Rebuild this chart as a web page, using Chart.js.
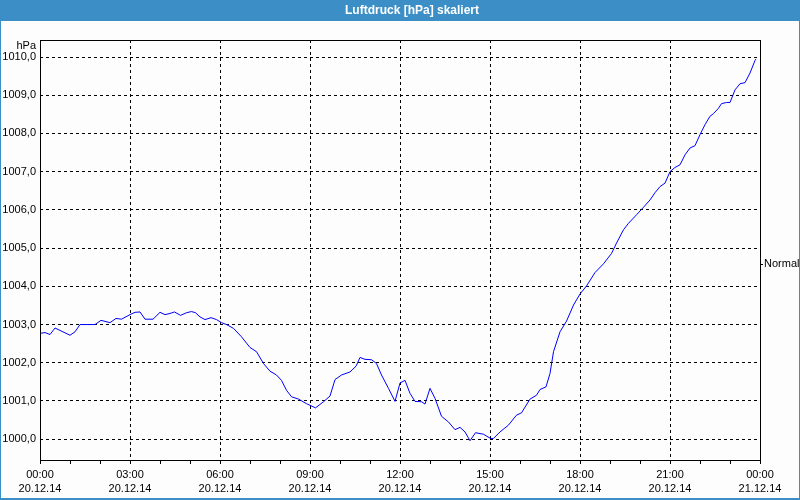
<!DOCTYPE html>
<html>
<head>
<meta charset="utf-8">
<title>Luftdruck [hPa] skaliert</title>
<script src="https://cdn.jsdelivr.net/npm/chart.js"></script>
<style>
  html, body { margin: 0; padding: 0; background: #ffffff; }
  #chart { display: block; }
</style>
</head>
<body>
<canvas id="chart" width="800" height="500"></canvas>
<script>
// minutes since 20.12.14 00:00
const minutes = [0, 10, 20, 30, 60, 70, 80, 110, 122, 140, 152, 163, 180, 190, 200, 210, 226, 240, 250, 260,
  269, 281, 293, 303, 311, 320, 330, 342, 353, 363, 373, 387, 403, 420, 433, 447, 460, 473, 483, 493,
  503, 517, 533, 551, 567, 580, 590, 603, 620, 632, 640, 650, 663, 673, 683, 697, 710, 720, 730, 740,
  750, 763, 770, 780, 790, 803, 817, 830, 840, 850, 860, 871, 887, 901, 907, 920, 937, 953, 963, 980,
  993, 1000, 1012, 1020, 1027, 1040, 1053, 1067, 1080, 1093, 1110, 1127, 1143, 1153, 1167, 1177, 1193, 1207, 1220, 1230,
  1240, 1250, 1260, 1270, 1280, 1290, 1300, 1310, 1320, 1330, 1340, 1347, 1357, 1363, 1373, 1380, 1390, 1400, 1410, 1420,
  1430, 1432];
const pressure = [1002.77, 1002.79, 1002.74, 1002.91, 1002.72, 1002.81, 1003.0, 1003.0, 1003.11, 1003.05, 1003.16, 1003.14, 1003.26, 1003.32, 1003.33, 1003.14, 1003.14, 1003.32, 1003.26, 1003.29,
  1003.33, 1003.24, 1003.31, 1003.34, 1003.31, 1003.2, 1003.13, 1003.18, 1003.13, 1003.05, 1003.0, 1002.9, 1002.68, 1002.4, 1002.29, 1001.98, 1001.78, 1001.68, 1001.54, 1001.28,
  1001.11, 1001.05, 1000.93, 1000.82, 1000.98, 1001.13, 1001.56, 1001.68, 1001.76, 1001.91, 1002.14, 1002.09, 1002.08, 1001.98, 1001.68, 1001.33, 1000.99, 1001.47, 1001.54, 1001.2,
  1000.99, 1000.98, 1000.92, 1001.33, 1001.07, 1000.6, 1000.45, 1000.25, 1000.31, 1000.19, 999.96, 1000.17, 1000.13, 1000.02, 1000.02, 1000.19, 1000.37, 1000.63, 1000.69, 1001.05,
  1001.15, 1001.3, 1001.37, 1001.72, 1002.29, 1002.81, 1003.09, 1003.51, 1003.8, 1004.01, 1004.36, 1004.59, 1004.86, 1005.13, 1005.48, 1005.65, 1005.87, 1006.07, 1006.26, 1006.45,
  1006.61, 1006.7, 1007.0, 1007.11, 1007.18, 1007.44, 1007.62, 1007.68, 1007.97, 1008.23, 1008.45, 1008.52, 1008.66, 1008.78, 1008.81, 1008.81, 1009.14, 1009.3, 1009.33, 1009.58,
  1009.91, 1009.95];

const yTicks = [1000, 1001, 1002, 1003, 1004, 1005, 1006, 1007, 1008, 1009, 1010];
const hourTicks = [0, 1, 2, 3, 4, 5, 6, 7, 8, 9, 10, 11, 12, 13, 14, 15, 16, 17, 18, 19, 20, 21, 22, 23, 24];
const majorHours = [0, 3, 6, 9, 12, 15, 18, 21, 24];
const timeLabels = ['00:00', '03:00', '06:00', '09:00', '12:00', '15:00', '18:00', '21:00', '00:00'];
const dateLabels = ['20.12.14', '20.12.14', '20.12.14', '20.12.14', '20.12.14', '20.12.14', '20.12.14', '20.12.14', '21.12.14'];
const normalValue = 1004.58;
const yMin = 999.43;
const yMax = 1010.445;

const FONT = "'Liberation Sans', Arial, sans-serif";

const frame = {
  id: 'frame',
  beforeDraw(chart) {
    const c = chart.ctx;
    c.save();
    c.fillStyle = '#3c8fc6';
    c.fillRect(0, 0, chart.width, chart.height);
    c.fillStyle = '#fcfdfc';
    c.fillRect(1, 21, chart.width - 2, chart.height - 23);
    c.fillStyle = '#ffffff';
    c.font = 'bold 12px ' + FONT;
    c.textAlign = 'center';
    c.textBaseline = 'middle';
    c.fillText('Luftdruck [hPa] skaliert', 412, 11);
    c.fillStyle = '#000000';
    c.font = '11px ' + FONT;
    c.textAlign = 'right';
    c.fillText('hPa', 36, 46);
    c.restore();
  },
  afterDraw(chart) {
    const a = chart.chartArea;
    const c = chart.ctx;
    c.save();
    c.strokeStyle = '#000';
    c.lineWidth = 1;
    c.strokeRect(Math.round(a.left) + 0.5, Math.round(a.top) + 0.5,
      Math.round(a.right - a.left), Math.round(a.bottom - a.top) - 1);
    c.restore();
  }
};

new Chart(document.getElementById('chart'), {
  type: 'line',
  data: {
    datasets: [{
      label: 'Luftdruck',
      data: minutes.map((m, i) => ({ x: m, y: pressure[i] })),
      borderColor: '#0000ff',
      borderWidth: 1,
      pointRadius: 0,
      tension: 0,
      fill: false,
      yAxisID: 'y'
    }]
  },
  options: {
    responsive: false,
    devicePixelRatio: 1,
    animation: false,
    layout: { padding: { top: 40, left: 0, right: 0, bottom: 0 } },
    plugins: {
      legend: { display: false },
      tooltip: { enabled: false },
      title: { display: false }
    },
    scales: {
      x: {
        type: 'linear',
        min: 0,
        max: 1440,
        afterBuildTicks: s => { s.ticks = hourTicks.map(h => ({ value: h * 60 })); },
        afterFit: s => { s.height = 39; },
        ticks: {
          autoSkip: false,
          maxRotation: 0,
          padding: 3,
          color: '#000',
          font: { family: FONT, size: 11, lineHeight: 1.36 },
          callback: v => {
            const i = majorHours.indexOf(v / 60);
            return i < 0 ? '' : [timeLabels[i], dateLabels[i]];
          }
        },
        grid: {
          color: ctx => (ctx.tick && ctx.tick.value % 180 === 0) ? '#000' : 'rgba(0,0,0,0)',
          tickColor: '#000',
          tickLength: 3,
          lineWidth: 1
        },
        border: { display: false, dash: [3, 3] }
      },
      y: {
        position: 'left',
        min: yMin,
        max: yMax,
        afterBuildTicks: s => { s.ticks = yTicks.map(v => ({ value: v })); },
        afterFit: s => { s.width = 40; },
        ticks: {
          padding: 4,
          color: '#000',
          font: { family: FONT, size: 11 },
          callback: v => v.toFixed(1).replace('.', ',')
        },
        grid: { color: '#000', drawTicks: false, lineWidth: 1 },
        border: { display: false, dash: [3, 3] }
      },
      y2: {
        position: 'right',
        min: yMin,
        max: yMax,
        afterBuildTicks: s => { s.ticks = [{ value: normalValue }]; },
        afterFit: s => { s.width = 40; },
        ticks: {
          padding: 1,
          color: '#000',
          font: { family: FONT, size: 11 },
          callback: () => 'Normal'
        },
        grid: { drawOnChartArea: false, tickColor: '#000', tickLength: 3 },
        border: { display: false }
      }
    }
  },
  plugins: [frame]
});
</script>
</body>
</html>
